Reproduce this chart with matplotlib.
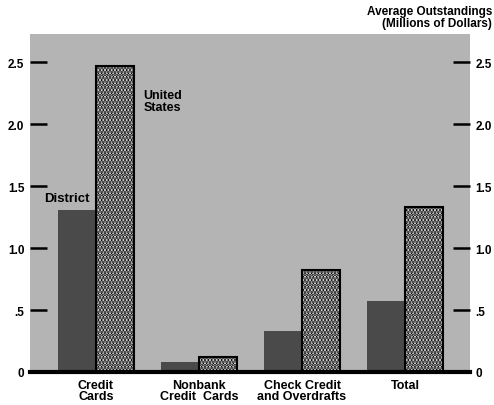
import numpy as np
import matplotlib.pyplot as plt

plt.rcParams['font.family'] = ['Liberation Sans', 'DejaVu Sans']
plt.rcParams['hatch.linewidth'] = 2.0

categories = ["Credit\nCards", "Nonbank\nCredit  Cards", "Check Credit\nand Overdrafts", "Total"]
district = [1.31, 0.08, 0.33, 0.57]
united_states = [2.47, 0.12, 0.82, 1.33]
tick_vals = [0, 0.5, 1.0, 1.5, 2.0, 2.5]
tick_labels = ["0", ".5", "1.0", "1.5", "2.0", "2.5"]

fig = plt.figure(figsize=(4.94, 4.06), dpi=100)
ax = fig.add_axes([30/494, 1 - 373/406, 440/494, 338/406])
ax.set_facecolor('#b4b4b4')

x = np.arange(len(categories))
w = 0.37
ax.bar(x - w/2, district, w, color='#4a4a4a', zorder=2)
ax.bar(x + w/2, united_states, w, color='white', edgecolor='black', hatch='.....',
       linewidth=1.5, zorder=2)

ax.set_xlim(-0.64, 3.63)
ax.set_ylim(0, 2.73)
for s in ['top', 'left', 'right']:
    ax.spines[s].set_visible(False)
ax.spines['bottom'].set_linewidth(3)
ax.spines['bottom'].set_zorder(3)

ax.set_yticks(tick_vals)
ax.set_yticklabels(tick_labels)
ax.tick_params(axis='y', direction='in', length=12, width=1.8, pad=4,
               labelsize=8.5, left=True, right=True, labelleft=True, labelright=True)
for lab in ax.get_yticklabels():
    lab.set_fontweight('bold')
ax.set_xticks(x)
ax.set_xticklabels(categories, fontsize=9, fontweight='bold', linespacing=0.95)
ax.tick_params(axis='x', length=0, pad=5)

ax.text(-0.28, 1.36, "District", fontsize=9.5, fontweight='bold', ha='center', va='bottom')
ax.text(0.46, 2.19, "United\nStates", fontsize=9, fontweight='bold', ha='left', va='center',
        linespacing=1.0)

fig.text(492/494, 1 - 6/406, "Average Outstandings\n(Millions of Dollars)", fontsize=8.5,
         fontweight='bold', ha='right', va='top', linespacing=1.0)

fig.savefig("out.png", dpi=100)
